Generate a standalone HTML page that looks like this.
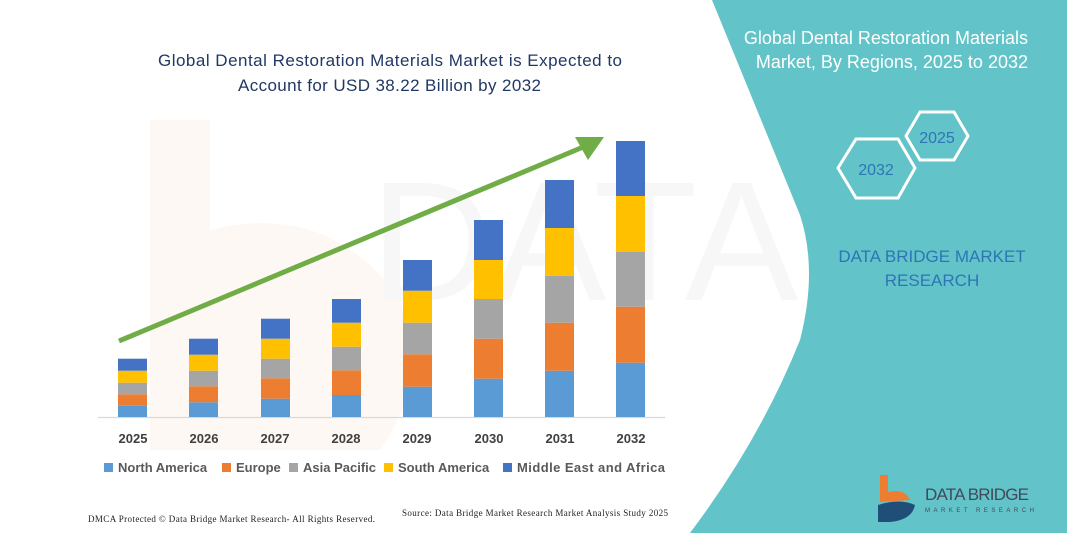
<!DOCTYPE html>
<html><head><meta charset="utf-8"><style>
html,body{margin:0;padding:0;background:#fff}
svg{display:block}
</style></head><body>
<svg width="1067" height="533" viewBox="0 0 1067 533" xmlns="http://www.w3.org/2000/svg" font-family="Liberation Sans, sans-serif">
<rect width="1067" height="533" fill="#fff"/>
<!-- faint watermark -->
<path d="M150 120 L210 120 L210 230 Q330 200 400 300 Q430 380 380 450 L150 450 Z" fill="#fdf5ef" opacity="0.7"/>
<text x="370" y="300" font-size="170" fill="#f7f7f7" font-family="Liberation Sans, sans-serif">DATA BRIDGE</text>
<!-- teal panel -->
<path d="M712 0 L1067 0 L1067 533 L690 533 Q760 440 800 340 Q818 270 800 215 Z" fill="#62c4c8"/>
<!-- left title -->
<text x="158" y="66" textLength="464" font-size="17" fill="#203864">Global Dental Restoration Materials Market is Expected to</text>
<text x="238" y="91" textLength="303" font-size="17" fill="#203864">Account for USD 38.22 Billion by 2032</text>
<!-- axis -->
<line x1="98" y1="417.5" x2="665" y2="417.5" stroke="#d9d9d9" stroke-width="1.2"/>
<g id="bars">
<rect x="118" y="405.7" width="29" height="11.3" fill="#5b9bd5"/><rect x="118" y="394.3" width="29" height="11.4" fill="#ed7d31"/><rect x="118" y="382.7" width="29" height="11.6" fill="#a5a5a5"/><rect x="118" y="370.7" width="29" height="12" fill="#ffc000"/><rect x="118" y="358.7" width="29" height="12" fill="#4472c4"/>
<rect x="189" y="402.3" width="29" height="14.7" fill="#5b9bd5"/><rect x="189" y="386.3" width="29" height="16" fill="#ed7d31"/><rect x="189" y="370.7" width="29" height="15.6" fill="#a5a5a5"/><rect x="189" y="354.7" width="29" height="16" fill="#ffc000"/><rect x="189" y="338.7" width="29" height="16" fill="#4472c4"/>
<rect x="261" y="398.7" width="29" height="18.3" fill="#5b9bd5"/><rect x="261" y="378.3" width="29" height="20.4" fill="#ed7d31"/><rect x="261" y="358.7" width="29" height="19.6" fill="#a5a5a5"/><rect x="261" y="338.7" width="29" height="20" fill="#ffc000"/><rect x="261" y="318.7" width="29" height="20" fill="#4472c4"/>
<rect x="332" y="395" width="29" height="22" fill="#5b9bd5"/><rect x="332" y="370.3" width="29" height="24.7" fill="#ed7d31"/><rect x="332" y="346.7" width="29" height="23.6" fill="#a5a5a5"/><rect x="332" y="322.7" width="29" height="24" fill="#ffc000"/><rect x="332" y="299" width="29" height="23.7" fill="#4472c4"/>
<rect x="403" y="386.7" width="29" height="30.3" fill="#5b9bd5"/><rect x="403" y="354.3" width="29" height="32.4" fill="#ed7d31"/><rect x="403" y="322.7" width="29" height="31.6" fill="#a5a5a5"/><rect x="403" y="290.7" width="29" height="32" fill="#ffc000"/><rect x="403" y="260" width="29" height="30.7" fill="#4472c4"/>
<rect x="474" y="378.7" width="29" height="38.3" fill="#5b9bd5"/><rect x="474" y="338.7" width="29" height="40" fill="#ed7d31"/><rect x="474" y="299" width="29" height="39.7" fill="#a5a5a5"/><rect x="474" y="260" width="29" height="39" fill="#ffc000"/><rect x="474" y="220" width="29" height="40" fill="#4472c4"/>
<rect x="545" y="370.7" width="29" height="46.3" fill="#5b9bd5"/><rect x="545" y="322.7" width="29" height="48" fill="#ed7d31"/><rect x="545" y="275.7" width="29" height="47" fill="#a5a5a5"/><rect x="545" y="228" width="29" height="47.7" fill="#ffc000"/><rect x="545" y="180" width="29" height="48" fill="#4472c4"/>
<rect x="616" y="362.7" width="29" height="54.3" fill="#5b9bd5"/><rect x="616" y="306.7" width="29" height="56" fill="#ed7d31"/><rect x="616" y="252" width="29" height="54.7" fill="#a5a5a5"/><rect x="616" y="196" width="29" height="56" fill="#ffc000"/><rect x="616" y="141" width="29" height="55" fill="#4472c4"/>
</g>
<!-- arrow -->
<line x1="119" y1="341" x2="588" y2="145" stroke="#70ad47" stroke-width="5"/>
<polygon points="604,137 575,137 588,160" fill="#70ad47"/>
<!-- year labels -->
<g font-size="13" font-weight="bold" fill="#404040" text-anchor="middle">
<text x="133" y="443">2025</text><text x="204" y="443">2026</text><text x="275" y="443">2027</text><text x="346" y="443">2028</text><text x="417" y="443">2029</text><text x="489" y="443">2030</text><text x="560" y="443">2031</text><text x="631" y="443">2032</text>
</g>
<!-- legend -->
<g font-size="13" font-weight="bold" fill="#595959">
<rect x="104" y="463" width="9" height="9" fill="#5b9bd5"/><text x="118" y="472">North America</text>
<rect x="222" y="463" width="9" height="9" fill="#ed7d31"/><text x="236" y="472">Europe</text>
<rect x="289" y="463" width="9" height="9" fill="#a5a5a5"/><text x="303" y="472">Asia Pacific</text>
<rect x="384" y="463" width="9" height="9" fill="#ffc000"/><text x="398" y="472">South America</text>
<rect x="503" y="463" width="9" height="9" fill="#4472c4"/><text x="517" y="472" textLength="148">Middle East and Africa</text>
</g>
<!-- footer -->
<text x="88" y="522" textLength="287" font-size="9" font-family="Liberation Serif, serif" fill="#222">DMCA Protected © Data Bridge Market Research- All Rights Reserved.</text>
<text x="402" y="516" textLength="266" font-size="9" font-family="Liberation Serif, serif" fill="#222">Source: Data Bridge Market Research Market Analysis Study 2025</text>
<!-- right panel text -->
<text x="1028" y="44" text-anchor="end" font-size="18" fill="#fff">Global Dental Restoration Materials</text>
<text x="1028" y="68" text-anchor="end" font-size="18" fill="#fff">Market, By Regions, 2025 to 2032</text>
<polygon points="920,112 954,112 968,136 954,160 920,160 906,136" fill="none" stroke="#fff" stroke-width="3"/>
<text x="937" y="143" text-anchor="middle" font-size="16" fill="#2e75b6">2025</text>
<polygon points="856,139 898,139 915,168 898,198 856,198 838,168" fill="none" stroke="#fff" stroke-width="3"/>
<text x="876" y="175" text-anchor="middle" font-size="16" fill="#2e75b6">2032</text>
<text x="932" y="262" text-anchor="middle" font-size="17" fill="#2e75b6">DATA BRIDGE MARKET</text>
<text x="932" y="286" text-anchor="middle" font-size="17" fill="#2e75b6">RESEARCH</text>
<!-- logo -->
<path d="M880 475 L888 475 L888 492 Q905 488 910 500 L880 502 Z" fill="#ed7d31"/>
<path d="M878 505 Q900 498 915 505 Q912 520 890 522 L878 522 Z" fill="#1f4e79"/>
<text x="925" y="500" font-size="17" textLength="104" fill="#404a5a">DATA BRIDGE</text>
<text x="925" y="512" font-size="6" fill="#404a5a" letter-spacing="3.5">MARKET RESEARCH</text>
</svg>
</body></html>
